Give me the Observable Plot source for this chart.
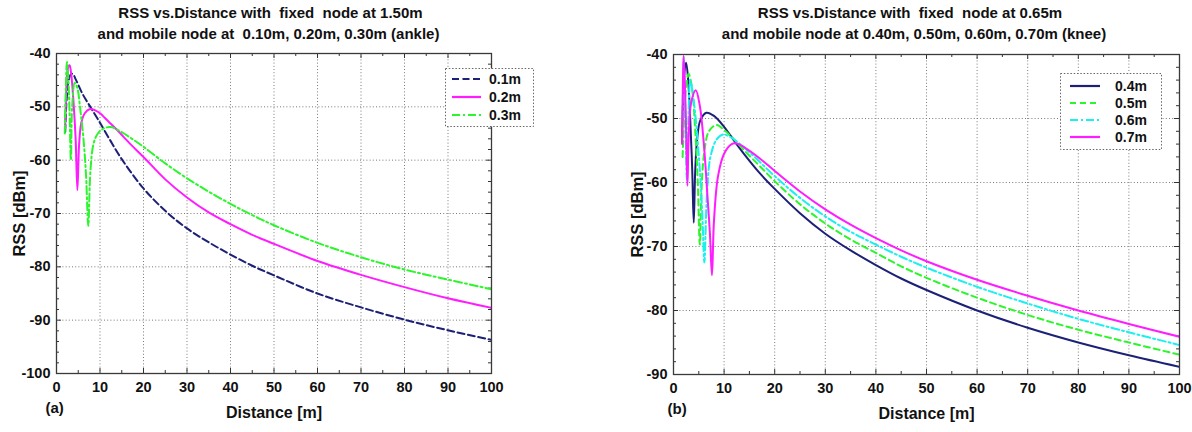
<!DOCTYPE html>
<html>
<head>
<meta charset="utf-8">
<script src="https://cdn.jsdelivr.net/npm/d3@7"></script>
<script src="https://cdn.jsdelivr.net/npm/@observablehq/plot@0.6"></script>
<style>
  html, body { margin: 0; padding: 0; background: #fff; }
  #page { position: relative; width: 1192px; height: 432px; overflow: hidden;
          font-family: "Liberation Sans", Arial, sans-serif; color: #111; }
  .panel { position: absolute; top: 0; height: 432px; }
  .title { position: absolute; top: 2px; text-align: center; font-weight: bold;
           font-size: 15px; line-height: 21px; white-space: pre; color: #111; }
  .legend { position: absolute; }
</style>
</head>
<body>
<div id="page"></div>
<script>
// ---- shared axis values ----
const xMajor = [0, 10, 20, 30, 40, 50, 60, 70, 80, 90, 100];
const xMinor = [5, 15, 25, 35, 45, 55, 65, 75, 85, 95];
const yMajorAnkle = [-100, -90, -80, -70, -60, -50, -40];
const yMajorKnee = [-90, -80, -70, -60, -50, -40];

// ---- (a) ankle: fixed node 1.50 m ----
const ankleLabels = ["0.1m", "0.2m", "0.3m"];
const ankleDist01 = [2, 2.3, 2.7, 3.2, 3.7, 4.5, 6, 8, 10, 12, 15, 20, 25, 30, 35, 40, 45, 50, 60, 70, 80, 90, 100];
const ankleRss01  = [-54.7, -49, -45.5, -44, -43.8, -45, -47.6, -50.3, -53, -55.8, -59.8, -65.3, -69.5, -72.8, -75.4, -77.7, -79.8, -81.6, -85, -87.6, -89.9, -91.9, -93.7];
const ankleDist02 = [2, 2.3, 2.7, 3.0, 3.4, 3.9, 4.4, 4.8, 5.2, 5.7, 6.5, 7.7, 9, 10, 12, 14, 17, 20, 25, 30, 35, 40, 45, 50, 60, 70, 80, 90, 100];
const ankleRss02  = [-54, -46, -42.5, -42.2, -44, -49, -56, -65.6, -57, -53, -51.2, -50.4, -50.7, -51.2, -52.8, -54.4, -57, -59.4, -63.6, -67, -69.8, -72, -74, -75.7, -78.9, -81.5, -83.8, -85.9, -87.7];
const ankleDist03 = [1.9, 2.1, 2.4, 2.7, 3.0, 3.3, 3.6, 4.2, 4.8, 5.4, 6.2, 6.8, 7.3, 7.8, 8.5, 9.5, 11, 12.5, 14, 17, 20, 25, 30, 35, 40, 45, 50, 60, 70, 80, 90, 100];
const ankleRss03  = [-55, -48, -41.6, -44.5, -51, -60, -50, -45.5, -46.5, -50, -56, -63, -72.3, -62, -57, -55, -54, -53.8, -54.3, -55.8, -57.5, -60.6, -63.4, -65.9, -68.2, -70.3, -72.2, -75.5, -78.2, -80.5, -82.4, -84.2];

// ---- (b) knee: fixed node 0.65 m ----
const kneeLabels = ["0.4m", "0.5m", "0.6m", "0.7m"];
const kneeDist04 = [1.7, 1.9, 2.2, 2.5, 2.9, 3.3, 3.7, 4.0, 4.3, 4.7, 5.3, 6.5, 8, 10, 12, 14, 17, 20, 25, 30, 35, 40, 45, 50, 60, 70, 80, 90, 100];
const kneeRss04  = [-53.8, -47, -42.5, -41.3, -44, -50, -58, -66.3, -58, -53, -50.3, -49.1, -49.6, -51.3, -53.5, -55.6, -58.5, -61, -64.8, -68, -70.6, -72.9, -75, -76.8, -80, -82.7, -85, -87, -88.8];
const kneeDist05 = [1.8, 2.1, 2.5, 3.0, 3.7, 4.3, 4.8, 5.2, 5.6, 6.2, 7.0, 8.5, 10, 12, 14, 17, 20, 25, 30, 35, 40, 45, 50, 60, 70, 80, 90, 100];
const kneeRss05  = [-56, -50, -45, -43, -45.5, -52, -60, -69.7, -60, -54.5, -52, -51, -51.8, -53.3, -55, -57.4, -59.8, -63.4, -66.4, -68.9, -71, -73.1, -74.9, -78, -80.7, -83, -85, -86.9];
const kneeDist06 = [1.8, 2.0, 2.3, 2.65, 2.95, 3.3, 3.8, 4.5, 5.2, 5.7, 6.1, 6.6, 7.3, 8.5, 9.8, 11, 13, 16, 20, 25, 30, 35, 40, 45, 50, 60, 70, 80, 90, 100];
const kneeRss06  = [-50, -40.5, -48, -59.7, -50, -44, -46, -51, -58, -65, -72.5, -62, -56, -53.3, -52.5, -52.8, -53.9, -56, -59, -62.4, -65.3, -67.7, -69.7, -71.6, -73.3, -76.3, -78.9, -81.3, -83.4, -85.4];
const kneeDist07 = [1.7, 1.85, 2.0, 2.3, 2.5, 2.75, 3.0, 3.5, 4.4, 5.2, 6.0, 6.7, 7.2, 7.6, 8.0, 8.8, 10, 11.5, 12.5, 14, 17, 20, 25, 30, 35, 40, 45, 50, 60, 70, 80, 90, 100];
const kneeRss07  = [-54, -45, -40.2, -46, -52, -60.5, -53, -47.5, -45.6, -48, -54, -62, -68, -74.5, -66, -59, -55.5, -54, -53.9, -54.5, -56.2, -58.2, -61.4, -64.2, -66.6, -68.7, -70.6, -72.3, -75.2, -77.7, -80, -82.1, -84.1];

// ---- line styles ----
const NAVY = "#1c2076", MAGENTA = "#ff1cff", GREEN = "#2cf52c", CYAN = "#1cefef";

const toRows = (dist, rss) => dist.map((d, i) => ({d, rss: rss[i]}));

const ankleSeries = [
  {label: ankleLabels[0], rows: toRows(ankleDist01, ankleRss01), stroke: NAVY, dash: "7,3.5"},
  {label: ankleLabels[1], rows: toRows(ankleDist02, ankleRss02), stroke: MAGENTA, dash: null},
  {label: ankleLabels[2], rows: toRows(ankleDist03, ankleRss03), stroke: GREEN, dash: "8,3,2,3"}
];
const kneeSeries = [
  {label: kneeLabels[0], rows: toRows(kneeDist04, kneeRss04), stroke: NAVY, dash: null},
  {label: kneeLabels[1], rows: toRows(kneeDist05, kneeRss05), stroke: GREEN, dash: "6,4"},
  {label: kneeLabels[2], rows: toRows(kneeDist06, kneeRss06), stroke: CYAN, dash: "8,3,2,3"},
  {label: kneeLabels[3], rows: toRows(kneeDist07, kneeRss07), stroke: MAGENTA, dash: null}
];

const TITLE_H = 44;
const SVG_H = 432 - TITLE_H;
const FONT = "'Liberation Sans', Arial, sans-serif";

// inward tick marks on all four sides of the frame
function frameTicks(values, len, innerW, innerH) {
  const st = {stroke: "#333", strokeWidth: 1};
  return [
    Plot.tickX(values.x, {x: d => d, insetTop: innerH - len, ...st}),
    Plot.tickX(values.x, {x: d => d, insetBottom: innerH - len, ...st}),
    Plot.tickY(values.y, {y: d => d, insetRight: innerW - len, ...st}),
    Plot.tickY(values.y, {y: d => d, insetLeft: innerW - len, ...st})
  ];
}

function drawPanel(cfg) {
  const page = document.getElementById("page");
  const wrap = document.createElement("div");
  wrap.className = "panel";
  wrap.style.left = cfg.left + "px";
  wrap.style.width = cfg.width + "px";
  page.appendChild(wrap);

  const innerW = cfg.width - cfg.marginLeft - cfg.marginRight;
  const innerH = SVG_H - cfg.marginTop - cfg.marginBottom;

  // two-line heading centred over the plotting frame
  const title = document.createElement("div");
  title.className = "title";
  title.style.left = (cfg.marginLeft + cfg.titleShift) + "px";
  title.style.width = innerW + "px";
  cfg.title.forEach((line, i) => {
    const row = document.createElement("div");
    row.textContent = line;
    row.style.position = "relative";
    row.style.left = (cfg.lineShift[i] || 0) + "px";
    title.appendChild(row);
  });
  wrap.appendChild(title);

  const [y0, y1] = cfg.yDomain;
  const yMinor = d3.range(y0 + 2, y1, 2).filter(v => v % 10 !== 0);

  const chart = Plot.plot({
    width: cfg.width,
    height: SVG_H,
    marginLeft: cfg.marginLeft,
    marginRight: cfg.marginRight,
    marginTop: cfg.marginTop,
    marginBottom: cfg.marginBottom,
    style: {fontFamily: FONT, fontSize: "14px", fontWeight: "bold", color: "#111", background: "transparent", overflow: "visible"},
    x: {domain: [0, 100]},
    y: {domain: cfg.yDomain},
    marks: [
      Plot.gridX(xMajor, {stroke: "#7a7a7a", strokeOpacity: 1, strokeDasharray: "1,2.2"}),
      Plot.gridY(cfg.yMajor, {stroke: "#7a7a7a", strokeOpacity: 1, strokeDasharray: "1,2.2"}),
      ...frameTicks({x: xMajor, y: cfg.yMajor}, 5, innerW, innerH),
      ...frameTicks({x: xMinor, y: yMinor}, 3, innerW, innerH),
      ...cfg.series.map(s => Plot.line(s.rows, {
        x: "d", y: "rss", stroke: s.stroke, strokeWidth: 2,
        strokeDasharray: s.dash, curve: "catmull-rom", clip: true
      })),
      Plot.frame({stroke: "#3a3a3a", strokeWidth: 1.3}),
      // tick labels and axis titles drawn as separate axis marks
      Plot.axisX(xMajor, {
        tickSize: 0, tickPadding: 8, tickFormat: d => String(d), label: null,
        fontSize: 14.5, fontWeight: "bold"
      }),
      Plot.axisX({
        ticks: [], tickSize: 0, label: "Distance [m]", labelArrow: "none",
        labelAnchor: "center", labelOffset: 44, fontSize: 16, fontWeight: "bold"
      }),
      Plot.axisY(cfg.yMajor, {
        tickSize: 0, tickPadding: 6, tickFormat: d => String(d), label: null,
        fontSize: 14.5, fontWeight: "bold"
      }),
      Plot.axisY({
        ticks: [], tickSize: 0, label: "RSS [dBm]", labelArrow: "none",
        labelAnchor: "center", labelOffset: cfg.yLabelOffset, fontSize: 16.5, fontWeight: "bold"
      }),
      Plot.text([cfg.tag], {
        frameAnchor: "bottom-left", text: d => d, textAnchor: "start",
        dx: cfg.tagDx, dy: 39, fontSize: 15, fontWeight: "bold"
      })
    ]
  });
  chart.style.position = "absolute";
  chart.style.left = "0px";
  chart.style.top = TITLE_H + "px";
  wrap.appendChild(chart);

  // legend box: line sample + label per series
  const L = cfg.legend;
  const lg = d3.create("svg")
    .attr("class", "legend")
    .attr("width", L.w).attr("height", L.h)
    .style("left", (L.x - cfg.left) + "px")
    .style("top", L.y + "px");
  lg.append("rect")
    .attr("x", 0.5).attr("y", 0.5).attr("width", L.w - 1).attr("height", L.h - 1)
    .attr("fill", "#fff").attr("stroke", "#666").attr("stroke-dasharray", "1.5,1.8");
  cfg.series.forEach((s, i) => {
    const yy = L.row0 + i * L.rowStep;
    lg.append("line")
      .attr("x1", L.lx0).attr("x2", L.lx1).attr("y1", yy).attr("y2", yy)
      .attr("stroke", s.stroke).attr("stroke-width", 2.2)
      .attr("stroke-dasharray", s.dash);
    lg.append("text")
      .attr("x", L.tx).attr("y", yy).attr("dy", "0.36em")
      .attr("font-family", FONT).attr("font-size", 14).attr("font-weight", "bold")
      .attr("fill", "#111").text(s.label);
  });
  wrap.appendChild(lg.node());
}

drawPanel({
  left: 0, width: 600,
  marginLeft: 56, marginRight: 109, marginTop: 9, marginBottom: 59,
  yDomain: [-100, -40], yMajor: yMajorAnkle, yLabelOffset: 43,
  title: ["RSS vs.Distance with  fixed  node at 1.50m", "and mobile node at  0.10m, 0.20m, 0.30m (ankle)"],
  titleShift: -3, lineShift: [0, -2],
  tag: "(a)", tagDx: -11,
  series: ankleSeries,
  legend: {x: 445, y: 68, w: 89, h: 59, row0: 11, rowStep: 18, lx0: 7, lx1: 36, tx: 44}
});

drawPanel({
  left: 600, width: 592,
  marginLeft: 73, marginRight: 13, marginTop: 10, marginBottom: 58,
  yDomain: [-90, -40], yMajor: yMajorKnee, yLabelOffset: 42,
  title: ["RSS vs.Distance with  fixed  node at 0.65m", "and mobile node at 0.40m, 0.50m, 0.60m, 0.70m (knee)"],
  titleShift: -12, lineShift: [-4, 0],
  tag: "(b)", tagDx: -6,
  series: kneeSeries,
  legend: {x: 1060, y: 73, w: 102, h: 77, row0: 13, rowStep: 17, lx0: 10, lx1: 40, tx: 55}
});
</script>
</body>
</html>
